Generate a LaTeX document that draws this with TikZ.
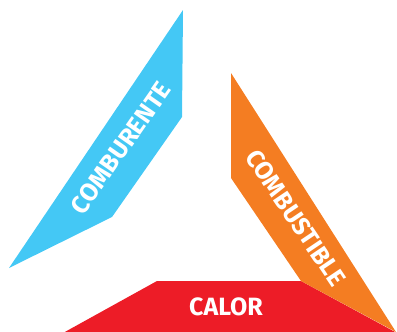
\documentclass[tikz,border=0pt]{standalone}
\usepackage{fontspec}
\setmainfont{Fira Sans}
\definecolor{cblue}{HTML}{44C8F5}
\definecolor{corange}{HTML}{F47D22}
\definecolor{cred}{HTML}{ED1C27}
\tikzset{
  lbl/.style={text=white, font=\fontsize{25}{29}\selectfont\bfseries, inner sep=0pt, anchor=center}
}
\begin{document}
\begin{tikzpicture}[x=1pt,y=-1pt]
\useasboundingbox (0,0) rectangle (397,332);
\fill[cblue] (183,10) -- (182,117) -- (112,217) -- (9,268) -- cycle;
\fill[cred] (63,333) -- (157,281) -- (301,281) -- (397,333) -- cycle;
\fill[corange] (231,73) -- (231,178) -- (301,281) -- (396,332) -- cycle;
\node[lbl, rotate=55] (comb) at (121,148) {COMBURENTE};
\node[lbl, rotate=-56] (cbus) at (296,218) {COMBUSTIBLE};
\node[lbl] (cal) at (226,307) {CALOR};
\end{tikzpicture}
\end{document}
